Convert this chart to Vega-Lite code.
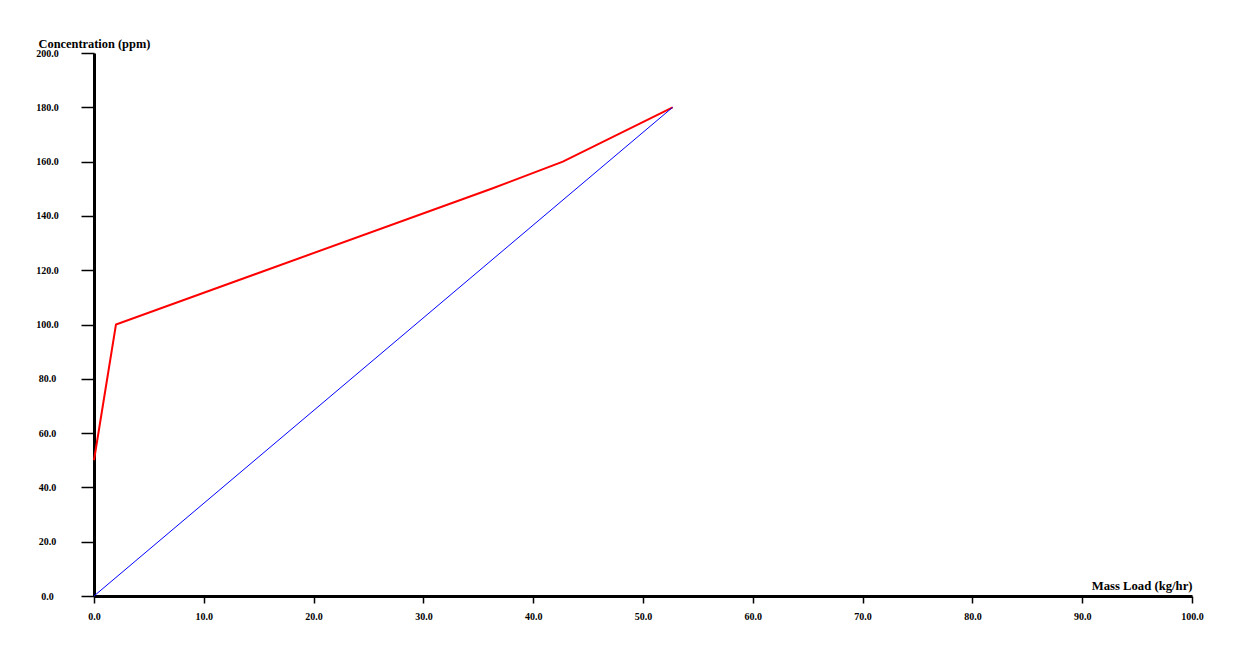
{
  "$schema": "https://vega.github.io/schema/vega-lite/v6.json",
  "width": 1098,
  "height": 543,
  "autosize": {"type": "none"},
  "padding": {"left": 94, "top": 53, "right": 43, "bottom": 50},
  "background": "white",
  "config": {"view": {"stroke": null}},
  "data": {
    "values": [
      {"series": "curve", "ord": 1, "load": 0, "conc": 50},
      {"series": "curve", "ord": 2, "load": 2.0, "conc": 100},
      {"series": "curve", "ord": 3, "load": 36.2, "conc": 150},
      {"series": "curve", "ord": 4, "load": 42.7, "conc": 160},
      {"series": "curve", "ord": 5, "load": 52.7, "conc": 180},
      {"series": "line", "ord": 1, "load": 0, "conc": 0},
      {"series": "line", "ord": 2, "load": 52.7, "conc": 180}
    ]
  },
  "mark": {"type": "line", "clip": false},
  "encoding": {
    "x": {
      "field": "load", "type": "quantitative",
      "scale": {"domain": [0, 100], "nice": false, "zero": false},
      "axis": {
        "values": [0,10,20,30,40,50,60,70,80,90,100],
        "format": ".1f",
        "grid": false,
        "domainColor": "black", "domainWidth": 3,
        "tickColor": "black", "tickWidth": 1.5, "tickSize": 7,
        "labelFont": "Liberation Serif", "labelFontWeight": "bold", "labelFontSize": 10, "labelColor": "black",
        "labelPadding": 8, "labelFlush": false, "labelOverlap": false,
        "title": "Mass Load (kg/hr)",
        "titleFont": "Liberation Serif", "titleFontWeight": "bold", "titleFontSize": 12.7, "titleColor": "black",
        "titleAngle": 0, "titleAlign": "right", "titleBaseline": "middle",
        "titleX": 1098, "titleY": -11
      }
    },
    "y": {
      "field": "conc", "type": "quantitative",
      "scale": {"domain": [0, 200], "nice": false},
      "axis": {
        "values": [0,20,40,60,80,100,120,140,160,180,200],
        "format": ".1f",
        "grid": false,
        "domainColor": "black", "domainWidth": 3,
        "tickColor": "black", "tickWidth": 1.5, "tickSize": 13,
        "labelFont": "Liberation Serif", "labelFontWeight": "bold", "labelFontSize": 10, "labelColor": "black",
        "labelAlign": "center", "labelBaseline": "middle", "labelPadding": 34, "labelFlush": false, "labelOverlap": false,
        "title": "Concentration (ppm)",
        "titleFont": "Liberation Serif", "titleFontWeight": "bold", "titleFontSize": 12.4, "titleColor": "black",
        "titleAngle": 0, "titleAlign": "left", "titleBaseline": "middle",
        "titleX": -56, "titleY": -10
      }
    },
    "color": {
      "field": "series", "type": "nominal",
      "scale": {"domain": ["curve", "line"], "range": ["#ff0000", "#0000ff"]},
      "legend": null
    },
    "strokeWidth": {
      "field": "series", "type": "nominal",
      "scale": {"domain": ["curve", "line"], "range": [2, 1]},
      "legend": null
    },
    "order": {"field": "ord", "type": "quantitative"}
  }
}
